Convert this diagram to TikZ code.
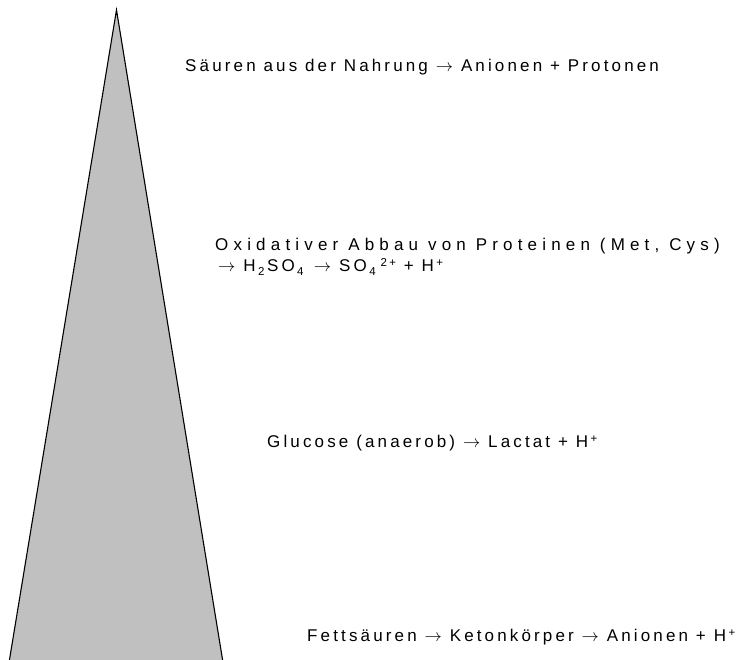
\documentclass[tikz,border=0pt]{standalone}
\usepackage{fontspec}
\setmainfont{Liberation Sans}[LetterSpace=18.5]
\newfontfamily\widefont{Liberation Sans}[LetterSpace=30.5]
\newcommand{\ar}{ $\rightarrow$ }
\newcommand{\up}[1]{\kern2.5pt\relax\raisebox{0.6ex}{\fontsize{11.5}{11.5}\selectfont #1}}
\newcommand{\dn}[1]{\kern2.5pt\relax\raisebox{-0.4ex}{\fontsize{11.5}{11.5}\selectfont #1}\kern2.5pt\relax}
\begin{document}
\begin{tikzpicture}[x=1pt,y=1pt,
  lbl/.style={anchor=base west,inner sep=0pt,font=\fontsize{17}{20}\selectfont},
  widelbl/.style={lbl,font=\fontsize{17}{20}\widefont}]
\useasboundingbox (0,0) rectangle (737,660);
\clip (0,0) rectangle (737,660);
\fill[fill={rgb,255:red,192;green,192;blue,192},draw=black,line width=1.1pt]
  (116.5,650) -- (4.5,-30) -- (227.5,-30) -- cycle;
\node[lbl] (t1) at (185,588) {Säuren aus der Nahrung\ar Anionen + Protonen};
\node[widelbl] (t2) at (215,409) {Oxidativer Abbau von Proteinen (Met, Cys)};
\node[lbl] (t3) at (218,388) {\ar H\dn{2}SO\dn{4}\ar SO\dn{4}\up{2+} + H\up{+}};
\node[lbl] (t4) at (267,212) {Glucose (anaerob)\ar Lactat + H\up{+}};
\node[lbl] (t5) at (307,18.5) {Fettsäuren\ar Ketonkörper\ar Anionen + H\up{+}};
\end{tikzpicture}
\end{document}
